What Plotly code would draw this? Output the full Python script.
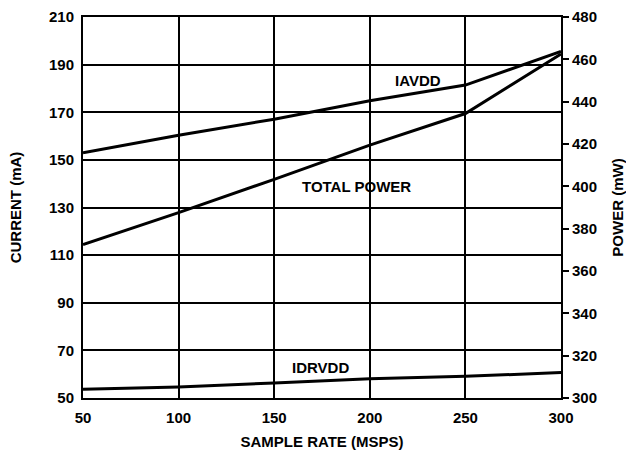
import plotly.graph_objects as go

sample_rate = [50, 100, 150, 200, 250, 300]
iavdd_ma = [153.0, 160.3, 167.1, 174.8, 181.4, 195.5]
idrvdd_ma = [53.7, 54.6, 56.3, 58.1, 59.1, 60.7]
total_power_mw = [372.5, 387.6, 403.3, 419.5, 434.4, 462.5]

x_ticks = [50, 100, 150, 200, 250, 300]
left_ticks = [50, 70, 90, 110, 130, 150, 170, 190, 210]
right_ticks = [300, 320, 340, 360, 380, 400, 420, 440, 460, 480]

FONT = "Liberation Sans"
tick_font = dict(family=FONT, size=15, color="black", weight="bold")
title_font = dict(family=FONT, size=15, color="black", weight="bold")

fig = go.Figure()
line = dict(color="black", width=3)
fig.add_trace(go.Scatter(x=sample_rate, y=iavdd_ma, mode="lines", line=line, yaxis="y"))
fig.add_trace(go.Scatter(x=sample_rate, y=idrvdd_ma, mode="lines", line=line, yaxis="y"))
fig.add_trace(go.Scatter(x=sample_rate, y=total_power_mw, mode="lines", line=line, yaxis="y2"))

fig.update_layout(
    width=626, height=450,
    margin=dict(l=83, r=65, t=17, b=52),
    paper_bgcolor="white", plot_bgcolor="white",
    showlegend=False,
    xaxis=dict(
        range=[50, 300], tickvals=x_ticks, showgrid=True, gridcolor="black", gridwidth=1.5,
        showline=True, linecolor="black", linewidth=2, mirror=True,
        ticks="outside", ticklen=5, tickcolor="rgba(0,0,0,0)", tickfont=tick_font,
        zeroline=False, automargin=False,
        title=dict(text="SAMPLE RATE (MSPS)", font=title_font, standoff=13),
    ),
    yaxis=dict(
        range=[50, 210], tickvals=left_ticks, showgrid=True, gridcolor="black", gridwidth=1.5,
        showline=True, linecolor="black", linewidth=2, mirror=True,
        ticks="outside", ticklen=4, tickcolor="rgba(0,0,0,0)", tickfont=tick_font,
        zeroline=False, automargin=False,
        title=dict(text="CURRENT (mA)", font=title_font, standoff=24),
    ),
    yaxis2=dict(
        range=[300, 480], tickvals=right_ticks, overlaying="y", side="right", anchor="x",
        showgrid=False, zeroline=False, showline=True, linecolor="black", linewidth=2,
        ticks="outside", ticklen=6, tickwidth=1.5, tickcolor="black", tickfont=tick_font,
        ticklabelstandoff=0, automargin=False,
        title=dict(text="POWER (mW)", font=title_font, standoff=18),
    ),
    yaxis3=dict(
        range=[300, 480], tickvals=right_ticks, overlaying="y", side="right", anchor="x",
        showgrid=False, zeroline=False, showline=False, automargin=False,
        ticks="inside", ticklen=6, tickwidth=1.5, tickcolor="black", showticklabels=False,
    ),
)

ann_font = dict(family=FONT, size=15, color="black", weight="bold")
fig.add_annotation(x=225.2, y=183.5, xref="x", yref="y", text="IAVDD", showarrow=False, font=ann_font)
fig.add_annotation(x=192.8, y=138.8, xref="x", yref="y", text="TOTAL POWER", showarrow=False, font=ann_font)
fig.add_annotation(x=174, y=63, xref="x", yref="y", text="IDRVDD", showarrow=False, font=ann_font)

fig.write_html("out.html", config={"displayModeBar": False},
               post_script="document.body.style.margin='0';")
